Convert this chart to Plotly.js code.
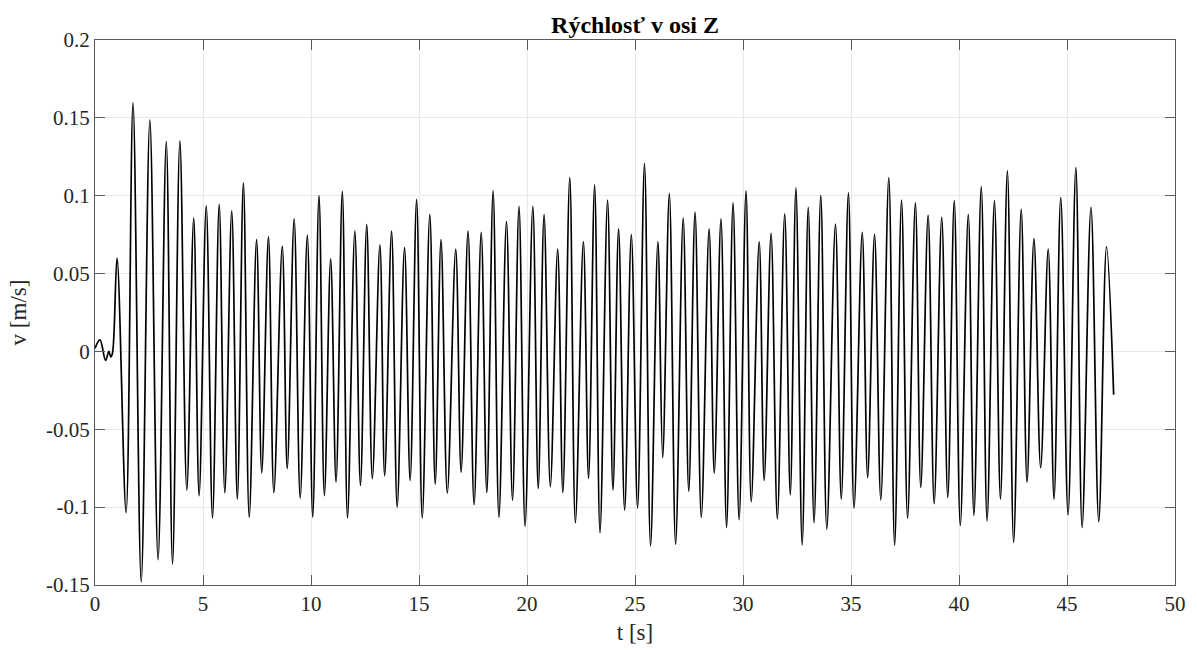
<!DOCTYPE html>
<html>
<head>
<meta charset="utf-8">
<script src="https://cdn.plot.ly/plotly-3.0.1.min.js"></script>
<style>html,body{margin:0;padding:0;background:#fff;}</style>
</head>
<body>
<div id="chart" style="width:1197px;height:650px;"></div>
<script>
// time samples [s] (extrema)
const tValues = [
  0, 0.23, 0.49, 0.64, 0.73, 0.81,
  1.02, 1.44, 1.76, 2.14, 2.54, 2.92, 3.30, 3.59, 3.93, 4.25,
  4.57, 4.82, 5.15, 5.44, 5.75, 6.01, 6.33, 6.59, 6.87, 7.14,
  7.48, 7.72, 8.03, 8.28, 8.67, 8.90, 9.22, 9.50, 9.83, 10.08,
  10.37, 10.62, 10.91, 11.16, 11.45, 11.69, 12.03, 12.29, 12.58, 12.84,
  13.19, 13.41, 13.73, 13.99, 14.33, 14.59, 14.89, 15.15, 15.50, 15.75,
  16.02, 16.31, 16.70, 16.95, 17.27, 17.55, 17.88, 18.14, 18.43, 18.70,
  19.05, 19.33, 19.63, 19.91, 20.27, 20.52, 20.79, 21.08, 21.42, 21.66,
  21.98, 22.24, 22.61, 22.85, 23.13, 23.38, 23.73, 23.98, 24.24, 24.52,
  24.83, 25.12, 25.44, 25.72, 26.06, 26.28, 26.59, 26.88, 27.23, 27.49,
  27.78, 28.07, 28.43, 28.67, 28.98, 29.24, 29.54, 29.82, 30.14, 30.38,
  30.75, 30.98, 31.30, 31.59, 31.93, 32.19, 32.45, 32.74, 33.02, 33.29,
  33.60, 33.88, 34.28, 34.55, 34.88, 35.14, 35.52, 35.77, 36.09, 36.38,
  36.75, 37.02, 37.34, 37.62, 37.98, 38.23, 38.57, 38.85, 39.20, 39.48,
  39.78, 40.06, 40.43, 40.69, 41.03, 41.30, 41.64, 41.92, 42.24, 42.53,
  42.88, 43.15, 43.47, 43.78, 44.13, 44.40, 44.71, 45.05, 45.41, 45.70,
  46.11, 46.47, 46.83, 47.16
];
// velocity in Z [m/s]
const vValues = [
  0.002, 0.0074, -0.0058, 0.0, -0.0035, -0.001,
  0.060, -0.1035, 0.1597, -0.148, 0.1486, -0.1338, 0.1347, -0.1366, 0.1352, -0.0891,
  0.0856, -0.0926, 0.0935, -0.107, 0.0944, -0.0907, 0.0903, -0.0949, 0.1083, -0.1065,
  0.0718, -0.078, 0.0736, -0.0907, 0.0676, -0.0752, 0.0852, -0.0942, 0.0745, -0.1065,
  0.1000, -0.0926, 0.0595, -0.084, 0.1028, -0.107, 0.0773, -0.0861, 0.0815, -0.0817,
  0.0685, -0.0799, 0.0773, -0.100, 0.0667, -0.0829, 0.0977, -0.107, 0.088, -0.0852,
  0.0718, -0.091, 0.0657, -0.0775, 0.0773, -0.0984, 0.0764, -0.0907, 0.1032, -0.1065,
  0.0833, -0.0956, 0.0931, -0.1123, 0.0931, -0.088, 0.088, -0.0868, 0.0657, -0.0907,
  0.1116, -0.110, 0.0706, -0.0815, 0.107, -0.1164, 0.0972, -0.0891, 0.0787, -0.1019,
  0.075, -0.1007, 0.1208, -0.125, 0.0706, -0.0683, 0.1014, -0.1238, 0.0856, -0.0898,
  0.0894, -0.1065, 0.0787, -0.0782, 0.0852, -0.113, 0.0954, -0.1081, 0.1032, -0.0965,
  0.0706, -0.0829, 0.0759, -0.1076, 0.0884, -0.0921, 0.1051, -0.1243, 0.0926, -0.110,
  0.1002, -0.1141, 0.0817, -0.0949, 0.1019, -0.1007, 0.0764, -0.081, 0.0752, -0.0954,
  0.1116, -0.1245, 0.0972, -0.1072, 0.0954, -0.0873, 0.0875, -0.0977, 0.0861, -0.0938,
  0.0968, -0.1118, 0.088, -0.1053, 0.1058, -0.1088, 0.0968, -0.0949, 0.1162, -0.1227,
  0.0914, -0.084, 0.0725, -0.0748, 0.0657, -0.0949, 0.0988, -0.1049, 0.1181, -0.113,
  0.0926, -0.1093, 0.0671, -0.0278
];
const xTickVals = [0, 5, 10, 15, 20, 25, 30, 35, 40, 45, 50];
const xTickText = ['0', '5', '10', '15', '20', '25', '30', '35', '40', '45', '50'];
const yTickVals = [-0.15, -0.1, -0.05, 0, 0.05, 0.1, 0.15, 0.2];
const yTickText = ['-0.15', '-0.1', '-0.05', '0', '0.05', '0.1', '0.15', '0.2'];
const chartTitle = 'Rýchlosť v osi Z';
const xTitle = 't [s]';
const yTitle = 'v [m/s]';

const serif = '"Liberation Serif", "Times New Roman", serif';
const axisColor = '#262626';
const lineColor = '#5a5a5a';
const gridColor = '#e8e8e8';

const trace = {
  x: tValues,
  y: vValues,
  type: 'scatter',
  mode: 'lines',
  line: {color: '#000000', width: 1.7, shape: 'spline', smoothing: 1},
  hoverinfo: 'x+y'
};

const axisCommon = {
  showgrid: true,
  gridcolor: gridColor,
  gridwidth: 1,
  showline: true,
  linecolor: lineColor,
  linewidth: 1,
  mirror: 'ticks',
  ticks: 'inside',
  ticklen: 10,
  tickwidth: 1,
  tickcolor: lineColor,
  zeroline: false,
  tickfont: {family: serif, size: 21, color: axisColor}
};

const layout = {
  width: 1197,
  height: 650,
  margin: {l: 95, r: 22, t: 40, b: 65},
  paper_bgcolor: '#ffffff',
  plot_bgcolor: '#ffffff',
  showlegend: false,
  title: {
    text: '<b>' + chartTitle + '</b>',
    font: {family: serif, size: 24, color: '#000000'},
    xref: 'paper', x: 0.5, xanchor: 'center',
    yref: 'container', y: 0.962, yanchor: 'middle'
  },
  xaxis: Object.assign({}, axisCommon, {
    range: [0, 50],
    tickvals: xTickVals,
    ticktext: xTickText,
    title: {text: xTitle, font: {family: serif, size: 23, color: axisColor}, standoff: 8}
  }),
  yaxis: Object.assign({}, axisCommon, {
    range: [-0.15, 0.2],
    tickvals: yTickVals,
    ticktext: yTickText,
    title: {text: yTitle, font: {family: serif, size: 23, color: axisColor}, standoff: 12}
  })
};

Plotly.newPlot('chart', [trace], layout, {displayModeBar: false, staticPlot: true});
</script>
</body>
</html>
